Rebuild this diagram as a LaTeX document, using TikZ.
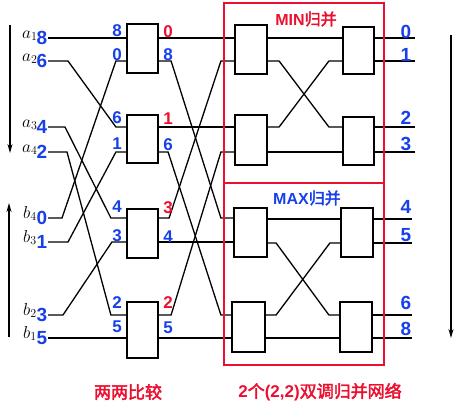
\documentclass[tikz,border=0pt]{standalone}
\usepackage{fontspec}
\setmainfont{Liberation Sans}
\newfontfamily\cjk{Noto Sans CJK SC}[AutoFakeBold=2.5]
\usetikzlibrary{arrows.meta}
\definecolor{myred}{RGB}{236,16,48}
\definecolor{myblue}{RGB}{24,64,232}
\begin{document}
\begin{tikzpicture}[x=1pt,y=-1pt,
  cmpbox/.style={draw, line width=2.2pt, fill=white, inner sep=0pt},
  wire/.style={line width=1.3pt},
  dig/.style={font=\bfseries\fontsize{17}{17}\selectfont, inner sep=0pt},
  bigdig/.style={font=\bfseries\fontsize{19}{19}\selectfont, inner sep=0pt},
  blu/.style={text=myblue},
  rd/.style={text=myred},
  varlab/.style={font=\fontsize{18}{18}\selectfont, inner sep=0pt, anchor=base west},
  frame/.style={draw=myred, line width=1.6pt, inner sep=0pt, minimum width=160pt},
  arr/.style={line width=1.2pt, -{Stealth[length=9pt,width=5pt]}}
]
\useasboundingbox (0,0) rectangle (460,405);
% row coordinates (inputs)
\coordinate (i1) at (48,38);
\coordinate (i2) at (48,61);
\coordinate (i3) at (48,127);
\coordinate (i4) at (48,152);
\coordinate (i5) at (48,218);
\coordinate (i6) at (48,242);
\coordinate (i7) at (48,315);
\coordinate (i8) at (48,338);
% outputs
\coordinate (o1) at (415,38);
\coordinate (o2) at (415,61);
\coordinate (o3) at (415,127);
\coordinate (o4) at (415,152);
\coordinate (o5) at (412,219);
\coordinate (o6) at (412,243);
\coordinate (o7) at (412,315);
\coordinate (o8) at (412,338);

% column 1 comparators
\node[cmpbox, minimum width=31pt, minimum height=49pt] (K1) at (142.5,48.5) {};
\node[cmpbox, minimum width=31pt, minimum height=48pt] (K2) at (142.5,139) {};
\node[cmpbox, minimum width=31pt, minimum height=49pt] (K3) at (142.5,233.5) {};
\node[cmpbox, minimum width=31pt, minimum height=56pt] (K4) at (142.5,330) {};
% MIN merge
\node[cmpbox, minimum width=32pt, minimum height=49pt] (M1) at (251,49.5) {};
\node[cmpbox, minimum width=32pt, minimum height=50pt] (M2) at (251,140) {};
\node[cmpbox, minimum width=31pt, minimum height=47pt] (M3) at (358.5,50.5) {};
\node[cmpbox, minimum width=31pt, minimum height=48pt] (M4) at (358.5,141) {};
% MAX merge
\node[cmpbox, minimum width=33pt, minimum height=49pt] (X1) at (250.5,232.5) {};
\node[cmpbox, minimum width=33pt, minimum height=50pt] (X2) at (248.5,327) {};
\node[cmpbox, minimum width=32pt, minimum height=49pt] (X3) at (357,232.5) {};
\node[cmpbox, minimum width=32pt, minimum height=50pt] (X4) at (356,327) {};

% input wiring
\draw[wire] (i1) -- (K1.west |- i1);
\draw[wire] (i2) -- ++(20,0) -- ([xshift=-10pt]K2.west |- i3) -- (K2.west |- i3);
\draw[wire] (i3) -- ++(17,0) -- ([xshift=-15pt]K3.west |- i5) -- (K3.west |- i5);
\draw[wire] (i4) -- ++(19,0) -- ([xshift=-15pt]K4.west |- i7) -- (K4.west |- i7);
\draw[wire] (i5) -- ++(14,0) -- ([xshift=-10pt]K1.west |- i2) -- (K1.west |- i2);
\draw[wire] (i6) -- ++(20,0) -- ([xshift=-10pt]K2.west |- i4) -- (K2.west |- i4);
\draw[wire] (i7) -- ++(15,0) -- ([xshift=-14pt]K3.west |- i6) -- (K3.west |- i6);
\draw[wire] (i8) -- (K4.west |- i8);

% middle wiring
\draw[wire] (K1.east |- i1) -- (M1.west |- i1);
\draw[wire] (K1.east |- i2) -- ++(12,0) -- ([xshift=-12pt]X1.west |- i5) -- (X1.west |- i5);
\draw[wire] (K2.east |- i3) -- (M2.west |- i3);
\draw[wire] (K2.east |- i4) -- ++(9,0) -- ([xshift=-10pt]X2.west |- i7) -- (X2.west |- i7);
\draw[wire] (K3.east |- i5) -- ++(10,0) -- ([xshift=-13pt]M1.west |- i2) -- (M1.west |- i2);
\draw[wire] (K3.east |- i6) -- (X1.west |- i6);
\draw[wire] (K4.east |- i7) -- ++(12,0) -- ([xshift=-13pt]M2.west |- i4) -- (M2.west |- i4);
\draw[wire] (K4.east |- i8) -- (X2.west |- i8);

% MIN merge wiring
\draw[wire] (M1.east |- i1) -- (M3.west |- i1);
\draw[wire] (M1.east |- i2) -- ++(11,0) -- ([xshift=-13pt]M4.west |- i3) -- (M4.west |- i3);
\draw[wire] (M2.east |- i3) -- ++(11,0) -- ([xshift=-13pt]M3.west |- i2) -- (M3.west |- i2);
\draw[wire] (M2.east |- i4) -- (M4.west |- i4);
% MAX merge wiring
\draw[wire] (X1.east |- o5) -- (X3.west |- o5);
\draw[wire] (X1.east |- o6) -- ++(8,0) -- ([xshift=-10pt]X4.west |- o7) -- (X4.west |- o7);
\draw[wire] (X2.east |- o7) -- ++(10,0) -- ([xshift=-10pt]X3.west |- o6) -- (X3.west |- o6);
\draw[wire] (X2.east |- o8) -- (X4.west |- o8);
% outputs
\draw[wire] (M3.east |- o1) -- (o1);
\draw[wire] (M3.east |- o2) -- (o2);
\draw[wire] (M4.east |- o3) -- (o3);
\draw[wire] (M4.east |- o4) -- (o4);
\draw[wire] (X3.east |- o5) -- (o5);
\draw[wire] (X3.east |- o6) -- (o6);
\draw[wire] (X4.east |- o7) -- (o7);
\draw[wire] (X4.east |- o8) -- (o8);

% red frames
\node[frame, minimum height=180pt] (MINF) at (304,93) {};
\node[frame, minimum height=182pt] (MAXF) at (304,274) {};
\node[font=\bfseries\fontsize{16}{16}\selectfont, text=myred, inner sep=0pt] (mint) at (306,19) {MIN{\cjk 归并}};
\node[font=\bfseries\fontsize{16}{16}\selectfont, text=myblue, inner sep=0pt] (maxt) at (307,198) {MAX{\cjk 归并}};

% arrows
\coordinate (la1) at (10,25);
\coordinate (la2) at (10,153);
\coordinate (lb1) at (9,337);
\coordinate (lb2) at (9,203);
\coordinate (ra1) at (451,35);
\coordinate (ra2) at (451,338);
\draw[arr] (la1) -- (la2);
\draw[arr] (lb1) -- (lb2);
\draw[arr] (ra1) -- (ra2);

% variable labels
\node[varlab] (va1) at (22,38) {$a_1$};
\node[varlab] (va2) at (22,61) {$a_2$};
\node[varlab] (va3) at (22,127) {$a_3$};
\node[varlab] (va4) at (22,152) {$a_4$};
\node[varlab] (vb4) at (23,218) {$b_4$};
\node[varlab] (vb3) at (23,242) {$b_3$};
\node[varlab] (vb2) at (23,315) {$b_2$};
\node[varlab] (vb1) at (23,338) {$b_1$};
% input digits
\node[bigdig, blu] (d1) at (42,38) {8};
\node[bigdig, blu] (d2) at (42,61) {6};
\node[bigdig, blu] (d3) at (42,127) {4};
\node[bigdig, blu] (d4) at (42,152) {2};
\node[bigdig, blu] (d5) at (42,218) {0};
\node[bigdig, blu] (d6) at (42,242) {1};
\node[bigdig, blu] (d7) at (42,315) {3};
\node[bigdig, blu] (d8) at (42,338) {5};

% column-1 labels
\node[dig, blu] (k1a) at (117,31) {8};
\node[dig, blu] (k1b) at (117,55) {0};
\node[dig, rd]  (k1c) at (168,32) {0};
\node[dig, blu] (k1d) at (168,55) {8};
\node[dig, blu] (k2a) at (117,118) {6};
\node[dig, blu] (k2b) at (117,144) {1};
\node[dig, rd]  (k2c) at (168,119) {1};
\node[dig, blu] (k2d) at (168,145) {6};
\node[dig, blu] (k3a) at (117,207) {4};
\node[dig, blu] (k3b) at (117,236) {3};
\node[dig, rd]  (k3c) at (168,208) {3};
\node[dig, blu] (k3d) at (168,237) {4};
\node[dig, blu] (k4a) at (117,303) {2};
\node[dig, blu] (k4b) at (117,327) {5};
\node[dig, rd]  (k4c) at (168,303) {2};
\node[dig, blu] (k4d) at (168,328) {5};

% output digits
\node[bigdig, blu] (r1) at (406,32) {0};
\node[bigdig, blu] (r2) at (406,55) {1};
\node[bigdig, blu] (r3) at (406,118) {2};
\node[bigdig, blu] (r4) at (406,144) {3};
\node[bigdig, blu] (r5) at (406,207) {4};
\node[bigdig, blu] (r6) at (406,235) {5};
\node[bigdig, blu] (r7) at (406,303) {6};
\node[bigdig, blu] (r8) at (406,329) {8};

% captions
\node[font=\bfseries\fontsize{17}{17}\selectfont\cjk, text=myred, inner sep=0pt] (cap1) at (128,392) {两两比较};
\node[font=\bfseries\fontsize{17}{17}\selectfont, text=myred, inner sep=0pt] (cap2) at (320,392) {2{\cjk 个}(2,2){\cjk 双调归并网络}};
\end{tikzpicture}
\end{document}
